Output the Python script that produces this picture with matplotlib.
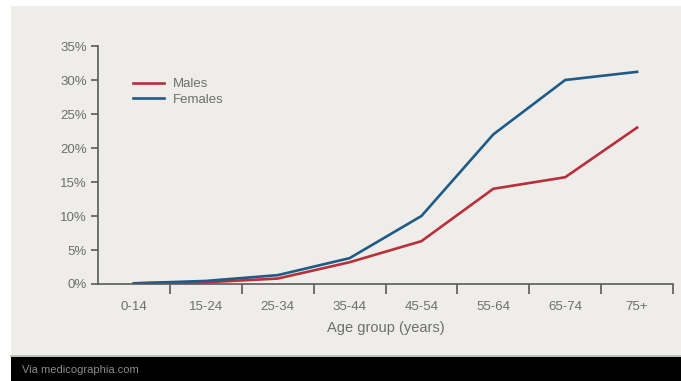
import matplotlib.pyplot as plt
from matplotlib.patches import Rectangle
from matplotlib.lines import Line2D

# Data
age_groups = ['0-14', '15-24', '25-34', '35-44', '45-54', '55-64', '65-74', '75+']
males = [0.1, 0.25, 0.8, 3.2, 6.3, 14.0, 15.7, 23.0]
females = [0.1, 0.45, 1.3, 3.8, 10.0, 22.0, 30.0, 31.2]
y_ticks = [0, 5, 10, 15, 20, 25, 30, 35]

red = '#b8303a'
blue = '#1f5b86'
grey_txt = '#6e6e6e'
axis_col = '#5a5a5a'

plt.rcParams['font.family'] = ['Liberation Sans', 'DejaVu Sans']

W, H = 681, 381
fig = plt.figure(figsize=(W / 100, H / 100), dpi=100)
fig.patch.set_facecolor('white')

# grey panel and black footer band (behind the axes)
fig.patches.append(Rectangle((11 / W, 1 - 357 / H), 1 - 11 / W, 351 / H,
                             transform=fig.transFigure, facecolor='#eeedea',
                             edgecolor='none', zorder=-2))
fig.patches.append(Rectangle((11 / W, 0), 1 - 11 / W, 1 - 357 / H,
                             transform=fig.transFigure, facecolor='black',
                             edgecolor='none', zorder=-2))
fig.add_artist(Line2D([11 / W, 1], [1 - 356 / H, 1 - 356 / H], transform=fig.transFigure,
                      color='#b5b5b2', lw=1.2, zorder=-1))
fig.text(22 / W, 1 - 370 / H, 'Via medicographia.com', color='#8a8a8a',
         fontsize=8, va='center', ha='left')

ax = fig.add_axes([98 / W, 1 - 284 / H, (673 - 98) / W, (284 - 46) / H])
ax.set_facecolor('none')
ax.set_zorder(1)

x = list(range(len(age_groups)))
ax.plot(x, males, color=red, lw=1.9, label='Males', solid_joinstyle='miter')
ax.plot(x, females, color=blue, lw=1.9, label='Females', solid_joinstyle='miter')

ax.set_xlim(-0.5, len(age_groups) - 0.5)
ax.set_ylim(0, 35)

# bin boundary ticks (no labels) and category labels between them
ax.set_xticks([i + 0.5 for i in x])
ax.set_xticklabels([])
ax.set_xticks(x, minor=True)
ax.set_xticklabels(age_groups, minor=True)
ax.tick_params(axis='x', which='major', direction='out', length=7, width=1.2, color=axis_col)
ax.tick_params(axis='x', which='minor', length=0, pad=12, labelsize=9.5, labelcolor=grey_txt)

ax.set_yticks(y_ticks)
ax.set_yticklabels([f'{v}%' for v in y_ticks])
ax.tick_params(axis='y', direction='out', length=5, width=1.2, color=axis_col,
               labelsize=9.5, labelcolor=grey_txt, pad=3)

for side in ('top', 'right'):
    ax.spines[side].set_visible(False)
for side in ('left', 'bottom'):
    ax.spines[side].set_color(axis_col)
    ax.spines[side].set_linewidth(1.2)

ax.set_xlabel('Age group (years)', fontsize=10.5, color=grey_txt, labelpad=6)

ax.legend(loc='upper left', bbox_to_anchor=(0.061, 0.865), frameon=False,
          borderaxespad=0, borderpad=0,
          fontsize=9.5, labelcolor=grey_txt, handlelength=2.35, handletextpad=0.68,
          labelspacing=0.25)

fig.savefig('out.png', dpi=100, facecolor=fig.get_facecolor())
